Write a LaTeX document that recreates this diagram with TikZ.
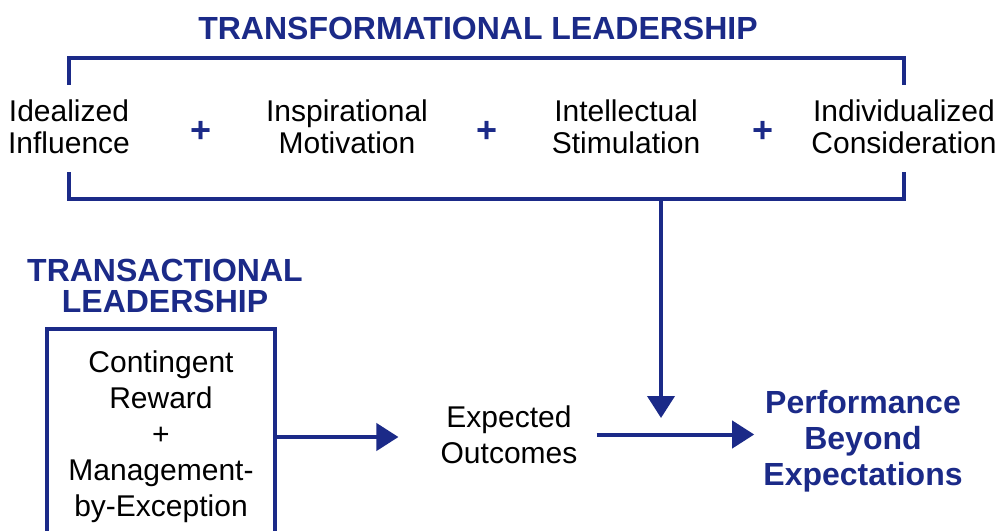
\documentclass[tikz,border=0pt]{standalone}
\usepackage{fontspec}
\setmainfont{Liberation Sans}
\usetikzlibrary{arrows.meta}
\definecolor{leaderblue}{RGB}{27,42,136}
\tikzset{
  factor/.style={inner sep=0pt, align=center, font=\fontsize{30}{32}\selectfont},
  heading/.style={inner sep=0pt, align=center, text=leaderblue, font=\bfseries\fontsize{32}{31}\selectfont},
  plus/.style={inner sep=0pt, text=leaderblue, font=\bfseries\fontsize{36}{36}\selectfont},
  bracket/.style={leaderblue, line width=4pt},
  bluearrow/.style={leaderblue, line width=4pt, -{Triangle[length=22pt,width=27pt]}},
}
\begin{document}
\begin{tikzpicture}[x=1pt,y=-1pt]
\useasboundingbox (0,0) rectangle (1003,530);
\clip (0,0) rectangle (1003,530);
% transformational part
\node[heading] (transform) at (478,28.5) {TRANSFORMATIONAL LEADERSHIP};
\node[factor] (ideal) at (69,127) {Idealized\\Influence};
\node[plus] (plusA) at (201,132) {+};
\node[factor] (inspire) at (347,127) {Inspirational\\Motivation};
\node[plus] (plusB) at (487,132) {+};
\node[factor] (intellect) at (626,127) {Intellectual\\Stimulation};
\node[plus] (plusC) at (763,132) {+};
\node[factor] (indiv) at (904,127) {Individualized\\Consideration};
\draw[bracket] ([yshift=15pt]ideal.north) |- ([yshift=42pt]indiv.north) -- ([yshift=15pt]indiv.north);
\draw[bracket] ([yshift=-18pt]ideal.south) |- ([yshift=-45pt]indiv.south) -- ([yshift=-18pt]indiv.south);
% transactional part
\node[heading] (transact) at (165,286) {TRANSACTIONAL\\LEADERSHIP};
\node[factor, font=\fontsize{30}{36}\selectfont, draw=leaderblue, line width=4pt,
  minimum width=228pt, minimum height=216pt] (contract) at (161,437)
  {Contingent\\Reward\\+\\Management-\\by-Exception};
% outcomes
\node[factor, font=\fontsize{30}{36}\selectfont, inner xsep=19pt] (outcomes) at (509,434.5) {Expected\\Outcomes};
\node[heading, font=\bfseries\fontsize{32}{36}\selectfont, inner xsep=9pt] (perf) at (863,441) {Performance\\Beyond\\Expectations};
\coordinate (split) at (661,199);
\coordinate (meet) at (661,418);
\draw[bluearrow, shorten >=23pt] (contract.east) -- (contract.east -| outcomes.west);
\draw[bluearrow] (outcomes.east) -- (outcomes.east -| perf.west);
\draw[bluearrow] (split) -- (meet);
\end{tikzpicture}
\end{document}
